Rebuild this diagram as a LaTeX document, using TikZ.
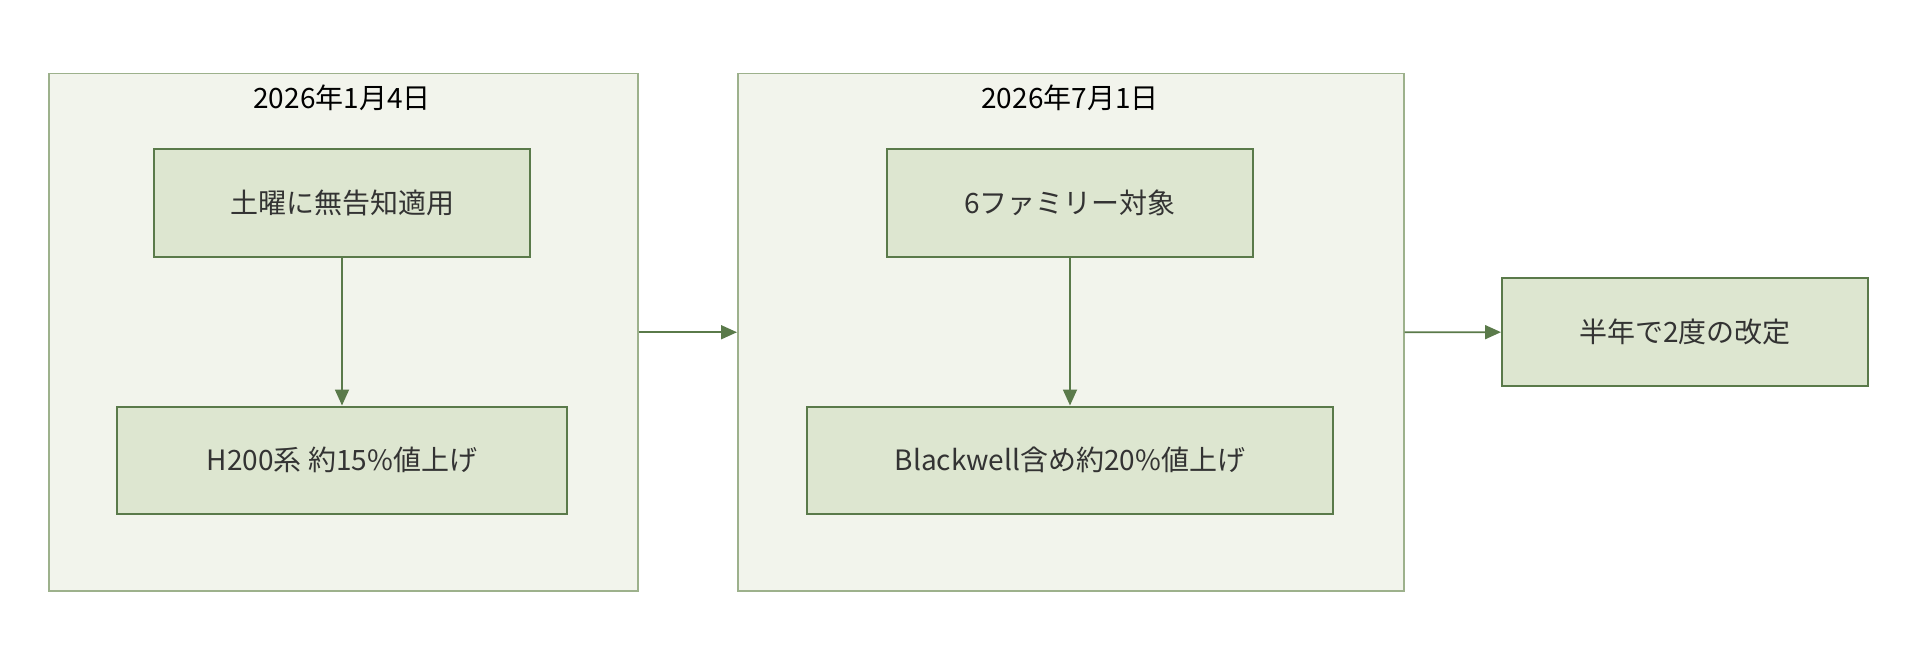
\documentclass[tikz,border=0pt]{standalone}
\usepackage{fontspec}
\setmainfont{Noto Sans CJK JP}
\usetikzlibrary{arrows.meta}
\definecolor{grpfill}{HTML}{F2F4EC}
\definecolor{grpline}{HTML}{9DB18C}
\definecolor{boxfill}{HTML}{DDE6D0}
\definecolor{boxline}{HTML}{5A7A4A}
\definecolor{txt}{HTML}{333333}
\tikzset{
  grp/.style={draw=grpline, fill=grpfill, line width=1.5pt, anchor=north west, inner sep=0pt},
  stage/.style={draw=boxline, fill=boxfill, line width=2pt, text=txt, font=\fontsize{28pt}{32pt}\selectfont, inner sep=0pt},
  ttl/.style={text=black, font=\fontsize{28pt}{32pt}\selectfont},
  flow/.style={draw=boxline, line width=1.8pt, -{Triangle[length=16pt,width=14pt]}}
}
\begin{document}
\begin{tikzpicture}[x=1pt,y=-1pt]
			\useasboundingbox (0,0) rectangle (1916,668);
			% groups
			\node[grp, minimum width=589pt, minimum height=517pt] (g1) at (48,73) {};
			\node[grp, minimum width=666pt, minimum height=517pt] (g2) at (737,73) {};
			\node[ttl] (t1) at (342,98) {2026年1月4日};
			\node[ttl] (t2) at (1070,98) {2026年7月1日};

			% stages
			\node[stage, minimum width=376pt, minimum height=108pt] (a) at (342,203) {土曜に無告知適用};
			\node[stage, minimum width=450pt, minimum height=107pt] (b) at (342,460) {H200系 約15\%値上げ};
			\node[stage, minimum width=366pt, minimum height=108pt] (c) at (1070,203) {6ファミリー対象};
			\node[stage, minimum width=526pt, minimum height=107pt] (d) at (1070,460) {Blackwell含め約20\%値上げ};
			\node[stage, minimum width=366pt, minimum height=108pt] (e) at (1685,332) {半年で2度の改定};

			\draw[flow] (a) -- (b);
			\draw[flow] (c) -- (d);
			\draw[flow] (g1.east) -- (g2.west);
			\draw[flow] (g2.east) -- (e);
\end{tikzpicture}
\end{document}
